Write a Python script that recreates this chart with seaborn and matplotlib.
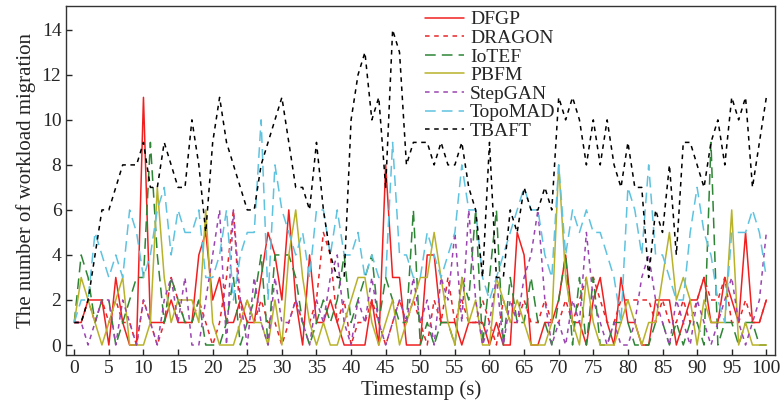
import matplotlib
matplotlib.use("Agg")
import matplotlib.pyplot as plt
import numpy as np
import pandas as pd
import seaborn as sns

# valores (t = 0..100)
timestamp = list(range(101))

dfgp = [1, 1, 2, 2, 2, 0, 3, 1, 0, 0,
        11, 1, 1, 1, 2, 1, 1, 1, 4, 5,
        2, 3, 1, 1, 2, 1, 1, 3, 5, 4,
        2, 6, 2, 0, 4, 1, 1, 2, 1, 0,
        0, 0, 0, 2, 0, 8, 3, 3, 0, 0,
        0, 4, 4, 1, 1, 1, 0, 1, 1, 1,
        0, 1, 0, 0, 5, 4, 0, 0, 1, 1,
        2, 4, 1, 1, 0, 2, 3, 1, 0, 3,
        1, 1, 0, 0, 2, 2, 2, 0, 1, 2,
        2, 3, 1, 1, 3, 2, 1, 5, 1, 1,
        2]
dragon = [1, 1, 2, 1, 2, 1, 2, 1, 1, 0,
          2, 1, 0, 1, 3, 2, 1, 1, 2, 1,
          0, 1, 3, 6, 1, 2, 1, 2, 1, 1,
          0, 1, 2, 1, 1, 2, 5, 4, 1, 2,
          0, 1, 1, 2, 1, 0, 1, 2, 1, 2,
          1, 0, 2, 1, 3, 1, 2, 1, 1, 2,
          1, 0, 2, 1, 1, 2, 1, 1, 2, 1,
          1, 2, 1, 2, 3, 3, 2, 1, 1, 2,
          2, 2, 2, 2, 1, 2, 1, 1, 2, 1,
          2, 3, 2, 2, 3, 1, 1, 2, 1, 1,
          2]
iotef = [1, 4, 3, 1, 2, 2, 0, 1, 2, 3,
         3, 9, 4, 1, 3, 2, 1, 1, 2, 0,
         0, 0, 1, 3, 0, 1, 2, 4, 0, 4,
         4, 4, 3, 1, 0, 1, 2, 1, 2, 4,
         1, 2, 3, 4, 1, 3, 2, 1, 1, 6,
         0, 1, 0, 1, 1, 0, 3, 2, 6, 0,
         3, 6, 0, 3, 1, 1, 3, 1, 1, 0,
         2, 4, 0, 3, 0, 3, 0, 0, 1, 1,
         1, 0, 0, 0, 1, 1, 0, 1, 0, 1,
         1, 0, 9, 0, 1, 1, 0, 1, 1, 0,
         0]
pbfm = [1, 3, 2, 1, 0, 1, 2, 3, 0, 0,
        0, 1, 7, 3, 1, 2, 2, 2, 1, 6,
        1, 0, 0, 0, 1, 2, 1, 1, 0, 2,
        0, 4, 6, 3, 1, 0, 1, 0, 0, 1,
        2, 3, 3, 1, 0, 1, 2, 0, 1, 2,
        3, 3, 5, 3, 1, 0, 3, 1, 2, 0,
        0, 3, 2, 1, 2, 1, 0, 0, 0, 1,
        8, 3, 1, 0, 3, 1, 0, 0, 0, 1,
        2, 1, 0, 1, 1, 3, 5, 2, 3, 2,
        0, 2, 1, 1, 1, 6, 0, 1, 0, 0,
        0]
stepgan = [1, 1, 0, 1, 2, 2, 0, 2, 1, 0,
           2, 1, 0, 2, 3, 1, 3, 0, 0, 2,
           4, 6, 0, 6, 2, 0, 3, 1, 0, 3,
           1, 1, 2, 1, 0, 2, 1, 3, 4, 1,
           0, 2, 1, 3, 1, 0, 1, 2, 1, 3,
           1, 2, 0, 3, 2, 5, 1, 6, 2, 0,
           1, 3, 0, 2, 1, 3, 4, 6, 2, 0,
           1, 0, 2, 1, 5, 2, 1, 0, 1, 0,
           0, 1, 3, 4, 2, 1, 0, 2, 1, 0,
           2, 1, 0, 1, 2, 3, 1, 0, 1, 2,
           5]
topomad = [1, 2, 2, 5, 4, 3, 4, 3, 6, 5,
           3, 4, 6, 7, 4, 6, 5, 5, 6, 3,
           3, 4, 6, 2, 4, 5, 5, 10, 2, 8,
           6, 5, 4, 5, 3, 6, 6, 4, 6, 4,
           4, 5, 3, 4, 3, 3, 9, 4, 4, 3,
           3, 5, 4, 3, 4, 5, 8, 6, 6, 3,
           2, 3, 4, 5, 6, 7, 6, 6, 4, 3,
           8, 4, 6, 5, 6, 5, 5, 4, 3, 1,
           7, 6, 4, 8, 4, 4, 3, 2, 2, 5,
           7, 5, 4, 2, 1, 5, 5, 5, 6, 5,
           3]
tbaft = [1, 1, 2, 4, 6, 6, 7, 8, 8, 8,
         9, 7, 7, 9, 8, 7, 7, 10, 8, 5,
         9, 11, 9, 8, 7, 6, 6, 8, 9, 10,
         11, 9, 7, 7, 6, 9, 6, 4, 3, 3,
         10, 12, 13, 10, 11, 7, 14, 13, 8, 9,
         9, 9, 8, 9, 8, 8, 9, 7, 6, 3,
         9, 3, 3, 6, 5, 7, 6, 6, 7, 6,
         11, 10, 11, 10, 8, 10, 8, 10, 8, 7,
         9, 7, 7, 3, 6, 5, 8, 4, 9, 9,
         8, 7, 9, 10, 8, 11, 10, 11, 7, 9,
         11]

nomes = ['DFGP', 'DRAGON', 'IoTEF', 'PBFM', 'StepGAN', 'TopoMAD', 'TBAFT']
series = [dfgp, dragon, iotef, pbfm, stepgan, topomad, tbaft]
cores = ['#f02020', '#e8262a', '#2e8535', '#b8b22a', '#9b45b0', '#5fc3e0', '#000000']
estilos = ['-', (0, (3, 3)), (0, (7, 4)), '-', (0, (3, 3)), (0, (7, 4)), (0, (3, 3))]

df = pd.DataFrame({'t': np.tile(timestamp, len(nomes)),
                   'valor': np.concatenate(series),
                   'metodo': np.repeat(nomes, len(timestamp))})

sns.set_style('ticks')
plt.rcParams['font.family'] = ['Liberation Serif', 'DejaVu Serif']

fig = plt.figure(figsize=(7.8, 4.12), dpi=100)
ax = fig.add_axes([0.085, 0.138, 0.909, 0.847])

for nome, cor, ls in zip(nomes, cores, estilos):
    d = df[df['metodo'] == nome]
    sns.lineplot(data=d, x='t', y='valor', color=cor, linestyle=ls,
                 linewidth=1.1, label=nome, ax=ax)

ax.set_xlim(-1.15, 101.3)
ax.set_ylim(-0.45, 15.05)
ax.set_xticks(range(0, 101, 5))
ax.set_yticks(range(0, 15, 2))
ax.tick_params(direction='in', labelsize=14, length=4, width=1)
for s in ax.spines.values():
    s.set_linewidth(1.0)
    s.set_color('#333333')
ax.set_xlabel('Timestamp (s)', fontsize=15, labelpad=2)
ax.set_ylabel('The number of workload migration', fontsize=15, labelpad=4)

leg = ax.legend(loc='upper left', bbox_to_anchor=(0.49, 1.02), frameon=False,
                fontsize=14, handlelength=2.0, handletextpad=0.3,
                labelspacing=0.05, borderaxespad=0.2)

fig.savefig('out.png', dpi=100)
